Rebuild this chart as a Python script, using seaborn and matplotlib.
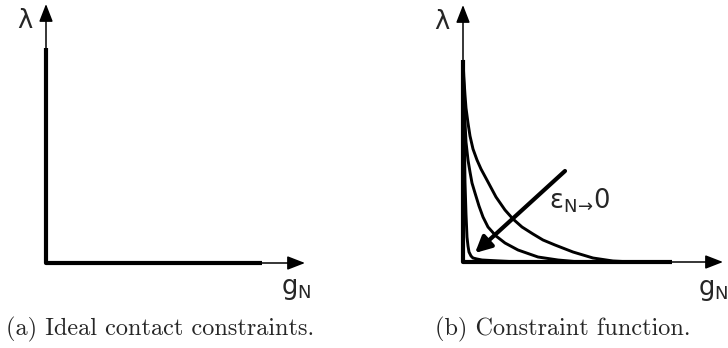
import matplotlib
matplotlib.use("Agg")
import matplotlib.pyplot as plt
import seaborn as sns
import pandas as pd

sns.set_theme(style="white")
plt.rcParams["font.family"] = ["DejaVu Sans"]
plt.rcParams["mathtext.fontset"] = "dejavusans"

# ---- panel (a): ideal contact constraints (L-shaped graph) ----
ideal_x = [0, 0, 216]
ideal_y = [215, 0, 0]

# ---- panel (b): regularised constraint function for decreasing eps_N ----
outer_x = [0, 1, 2, 3, 5, 7, 10, 14, 18, 25, 33, 42, 50, 59, 70, 80, 92,
           110, 130, 150, 170, 209]
outer_y = [202, 182, 167, 154, 139, 126, 113, 102, 93, 80, 65, 52, 43,
           35, 28, 22, 17, 10, 4, 1, 0, 0]
middle_x = [0, 1, 2, 3, 5, 7, 9, 12, 16, 20, 25, 33, 42, 55, 75, 95, 117, 209]
middle_y = [202, 172, 140, 120, 102, 90, 79, 69, 56, 45, 35, 26, 19, 12, 5,
            2, 0, 0]
inner_x = [0, 1, 2, 3, 4, 5, 6, 8, 10, 14, 19, 28, 37, 57, 209]
inner_y = [202, 150, 80, 48, 25, 16, 10, 6, 4, 3, 2, 1.5, 1, 0, 0]
axis_b_x = [0, 0, 209]
axis_b_y = [202, 0, 0]

arrow_start = (102, 91)
arrow_end = (12, 9)

captions = ["(a) Ideal contact constraints.", "(b) Constraint function."]

W, H = 728, 348
fig = plt.figure(figsize=(W / 100, H / 100), dpi=100)
fig.patch.set_facecolor("white")

# axes laid out so one data unit equals one pixel
ax_a = fig.add_axes([0, 0, 360 / W, 1])
ax_a.set_xlim(-46, 314)
ax_a.set_ylim(263 - H, 263)
ax_b = fig.add_axes([364 / W, 0, 364 / W, 1])
ax_b.set_xlim(-99, 265)
ax_b.set_ylim(262 - H, 262)

for ax in (ax_a, ax_b):
    ax.set_axis_off()

thick = 3.0
curve = 2.1
label_size = 18.5


def draw_axes_arrows(ax, xtip, ytip):
    kw = dict(arrowstyle="-|>,head_length=0.9,head_width=0.35", color="black",
              lw=1.1, shrinkA=0, shrinkB=0)
    ax.annotate("", xy=(0, ytip), xytext=(0, 0), arrowprops=kw)
    ax.annotate("", xy=(xtip, 0), xytext=(0, 0), arrowprops=kw)


def path(ax, xs, ys, lw):
    df = pd.DataFrame({"g": xs, "lam": ys})
    sns.lineplot(data=df, x="g", y="lam", sort=False, estimator=None, ax=ax,
                 color="black", lw=lw, solid_joinstyle="round",
                 solid_capstyle="butt")


# panel (a)
draw_axes_arrows(ax_a, 259, 259)
path(ax_a, ideal_x, ideal_y, thick)
ax_a.text(-21, 242, "λ", fontsize=label_size, ha="center", va="center")
ax_a.text(250, -26, r"g$_\mathrm{N}$", fontsize=label_size, ha="center",
          va="center")

# panel (b)
draw_axes_arrows(ax_b, 260, 257)
for xs, ys, lw in [(axis_b_x, axis_b_y, thick), (outer_x, outer_y, curve),
                   (middle_x, middle_y, curve), (inner_x, inner_y, curve)]:
    path(ax_b, xs, ys, lw)
ax_b.annotate("", xy=arrow_end, xytext=arrow_start,
              arrowprops=dict(arrowstyle="-|>,head_length=0.8,head_width=0.4",
                              color="black", lw=3.0, shrinkA=0, shrinkB=0))
ax_b.text(-21, 240, "λ", fontsize=label_size, ha="center", va="center")
ax_b.text(250, -28, r"g$_\mathrm{N}$", fontsize=label_size, ha="center",
          va="center")
ax_b.text(86, 61, r"ε$_{\mathrm{N}\!\rightarrow\!}$0", fontsize=label_size,
          ha="left", va="center")

# captions in a Computer Modern face
fig.text(160 / W, 1 - 329 / H, captions[0], family="cmr10", fontsize=17.5,
         ha="center", va="center")
fig.text(563 / W, 1 - 329 / H, captions[1], family="cmr10", fontsize=17.5,
         ha="center", va="center")

fig.savefig("out.png", dpi=100, facecolor="white")
